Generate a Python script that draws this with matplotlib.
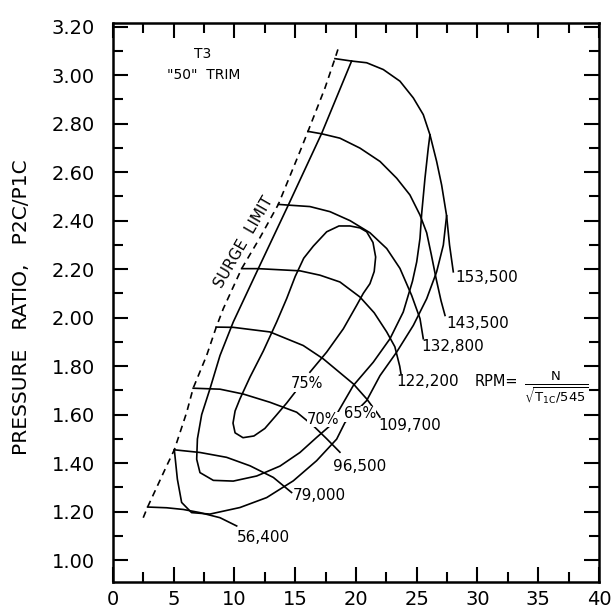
import numpy as np
import matplotlib.pyplot as plt

plt.rcParams['font.family'] = ['DejaVu Sans']
plt.rcParams['mathtext.fontset'] = 'dejavusans'

# surge limit (dashed)
surge_x = [2.49, 2.85, 4.42, 5.05, 6.07, 6.6, 7.71, 8.5, 9.08, 10.59, 12.1, 13.61, 15.39, 16.05, 17.45, 18.27, 18.63]
surge_y = [1.175, 1.219, 1.389, 1.455, 1.61, 1.709, 1.844, 1.961, 2.037, 2.202, 2.33, 2.467, 2.685, 2.768, 2.947, 3.068, 3.124]

# speed lines
s56_x = [2.85, 4.42, 5.79, 7.16, 8.81, 10.18]
s56_y = [1.219, 1.216, 1.209, 1.196, 1.175, 1.141]
s79_x = [5.05, 7.16, 9.35, 11.28, 13.2, 14.7]
s79_y = [1.455, 1.444, 1.424, 1.389, 1.341, 1.279]
s96_x = [6.6, 8.81, 10.72, 12.92, 15.12, 16.49, 17.6, 18.68]
s96_y = [1.709, 1.705, 1.685, 1.651, 1.61, 1.554, 1.50, 1.445]
s109_x = [8.5, 9.9, 12.92, 15.66, 17.31, 19.78, 20.88, 21.7, 21.97]
s109_y = [1.961, 1.96, 1.941, 1.885, 1.83, 1.727, 1.665, 1.61, 1.59]
s122_x = [10.59, 11.96, 15.39, 17.04, 18.68, 20.33, 21.5, 22.53, 23.2, 23.6, 23.7]
s122_y = [2.202, 2.202, 2.193, 2.175, 2.147, 2.085, 2.02, 1.941, 1.88, 1.80, 1.77]
s132_x = [13.61, 14.43, 16.21, 17.86, 19.51, 21.15, 22.53, 23.62, 24.58, 25.27, 25.54]
s132_y = [2.467, 2.464, 2.458, 2.437, 2.40, 2.35, 2.285, 2.203, 2.092, 1.996, 1.913]
s143_x = [16.05, 17.18, 18.68, 20.33, 21.98, 23.35, 24.44, 25.27, 25.82, 26.2, 26.6, 27.0, 27.33]
s143_y = [2.768, 2.758, 2.740, 2.699, 2.644, 2.575, 2.506, 2.423, 2.35, 2.26, 2.16, 2.07, 2.009]
s153_x = [18.27, 19.64, 20.88, 22.25, 23.62, 24.72, 25.54, 26.09, 26.64, 27.05, 27.46, 27.7, 28.01]
s153_y = [3.068, 3.058, 3.051, 3.023, 2.975, 2.906, 2.837, 2.754, 2.644, 2.547, 2.42, 2.30, 2.189]

speed_labels = ['56,400', '79,000', '96,500', '109,700', '122,200', '132,800', '143,500', '153,500']
speed_label_x = [10.18, 14.8, 18.13, 21.84, 23.35, 25.4, 27.46, 28.15]
speed_label_y = [1.092, 1.265, 1.386, 1.554, 1.737, 1.879, 1.975, 2.164]

# efficiency islands
eff75_x = [14.98, 14.3, 13.4, 12.5, 11.6, 10.7, 10.05, 9.88, 10.05, 10.45, 11.28, 12.37, 13.47, 14.3, 15.0,
           15.7, 16.49, 17.59, 18.6, 19.51, 20.33, 20.88, 21.4, 21.62, 21.5, 21.15, 20.6, 20.06, 18.96, 17.59, 16.21]
eff75_y = [1.692, 1.648, 1.595, 1.543, 1.512, 1.505, 1.525, 1.565, 1.615, 1.665, 1.755, 1.862, 1.982, 2.079, 2.17,
           2.245, 2.295, 2.354, 2.378, 2.378, 2.37, 2.354, 2.31, 2.25, 2.19, 2.14, 2.1, 2.051, 1.954, 1.858, 1.775]
eff70_x = [19.64, 17.18, 14.43, 11.96, 9.9, 8.81, 7.98, 7.3, 6.95, 6.89, 7.16, 8.26, 9.9, 11.83, 13.75, 15.39,
           16.76, 17.86, 19.78, 21.42, 22.8, 23.89, 24.65, 25.0, 25.27, 25.41, 25.68, 25.95, 26.09]
eff70_y = [3.058, 2.76, 2.464, 2.202, 1.982, 1.844, 1.706, 1.6, 1.5, 1.416, 1.361, 1.329, 1.326, 1.347, 1.388, 1.444,
           1.506, 1.554, 1.72, 1.816, 1.913, 2.023, 2.15, 2.23, 2.327, 2.43, 2.575, 2.699, 2.754]
eff65_x = [5.05, 5.3, 5.65, 6.47, 7.98, 10.45, 12.65, 14.84, 16.76, 18.41, 19.1, 20.88, 21.98, 23.35, 24.72,
           25.82, 26.64, 27.19, 27.46]
eff65_y = [1.455, 1.334, 1.238, 1.196, 1.19, 1.217, 1.258, 1.327, 1.41, 1.499, 1.568, 1.658, 1.761, 1.858, 1.968,
           2.078, 2.189, 2.299, 2.42]

eff_labels = ['75%', '70%', '65%']
eff_label_x = [16.0, 17.3, 20.33]
eff_label_y = [1.727, 1.58, 1.603]

fig = plt.figure(figsize=(6.13, 6.08), dpi=100)
ax = fig.add_axes([0.1843, 0.0428, 0.7928, 0.9194])

lw = 1.2
ax.plot(surge_x, surge_y, color='black', lw=lw, linestyle=(0, (4, 3)))
for xs, ys in [(s56_x, s56_y), (s79_x, s79_y), (s96_x, s96_y), (s109_x, s109_y),
               (s122_x, s122_y), (s132_x, s132_y), (s143_x, s143_y), (s153_x, s153_y)]:
    ax.plot(xs, ys, color='black', lw=lw)
for xs, ys in [(eff75_x, eff75_y), (eff70_x, eff70_y), (eff65_x, eff65_y)]:
    ax.plot(xs, ys, color='black', lw=lw)

for t, x, y in zip(speed_labels, speed_label_x, speed_label_y):
    ax.text(x, y, t, fontsize=11, ha='left', va='center')
for t, x, y in zip(eff_labels, eff_label_x, eff_label_y):
    ax.text(x, y, t, fontsize=10.5, ha='center', va='center',
            bbox=dict(fc='white', ec='none', pad=0.2))

ax.text(10.8, 2.313, 'SURGE  LIMIT', fontsize=11, rotation=60, rotation_mode='anchor',
        ha='center', va='center')
ax.text(7.4, 3.088, 'T3', fontsize=10, ha='center', va='center')
ax.text(7.47, 3.0, '"50"  TRIM', fontsize=10, ha='center', va='center')

ax.text(29.8, 1.735, 'RPM=', fontsize=10.5, ha='left', va='center')
ax.text(36.5, 1.712, r'$\frac{\mathrm{N}}{\sqrt{\mathrm{T_{1C}}/545}}$', fontsize=13.5,
        ha='center', va='center')

ax.set_xlim(0, 40)
ax.set_ylim(0.91, 3.215)
ax.set_xticks(np.arange(0, 41, 5))
ax.set_xticks(np.arange(2.5, 40, 5), minor=True)
ax.set_yticks(np.arange(1.0, 3.21, 0.2))
ax.set_yticks(np.arange(1.1, 3.2, 0.2), minor=True)
ax.set_yticklabels([f'{v:.2f}' for v in np.arange(1.0, 3.21, 0.2)])
ax.tick_params(which='both', direction='in', top=True, right=True, width=1.5, labelsize=14)
ax.tick_params(which='major', length=11)
ax.tick_params(which='minor', length=7)
ax.tick_params(axis='y', pad=13)
ax.tick_params(axis='x', pad=6)
for s in ax.spines.values():
    s.set_linewidth(1.8)

fig.text(0.035, 0.495, 'PRESSURE   RATIO,   P2C/P1C', rotation=90, fontsize=14.5,
         ha='center', va='center')

fig.savefig('out.png', dpi=100)
